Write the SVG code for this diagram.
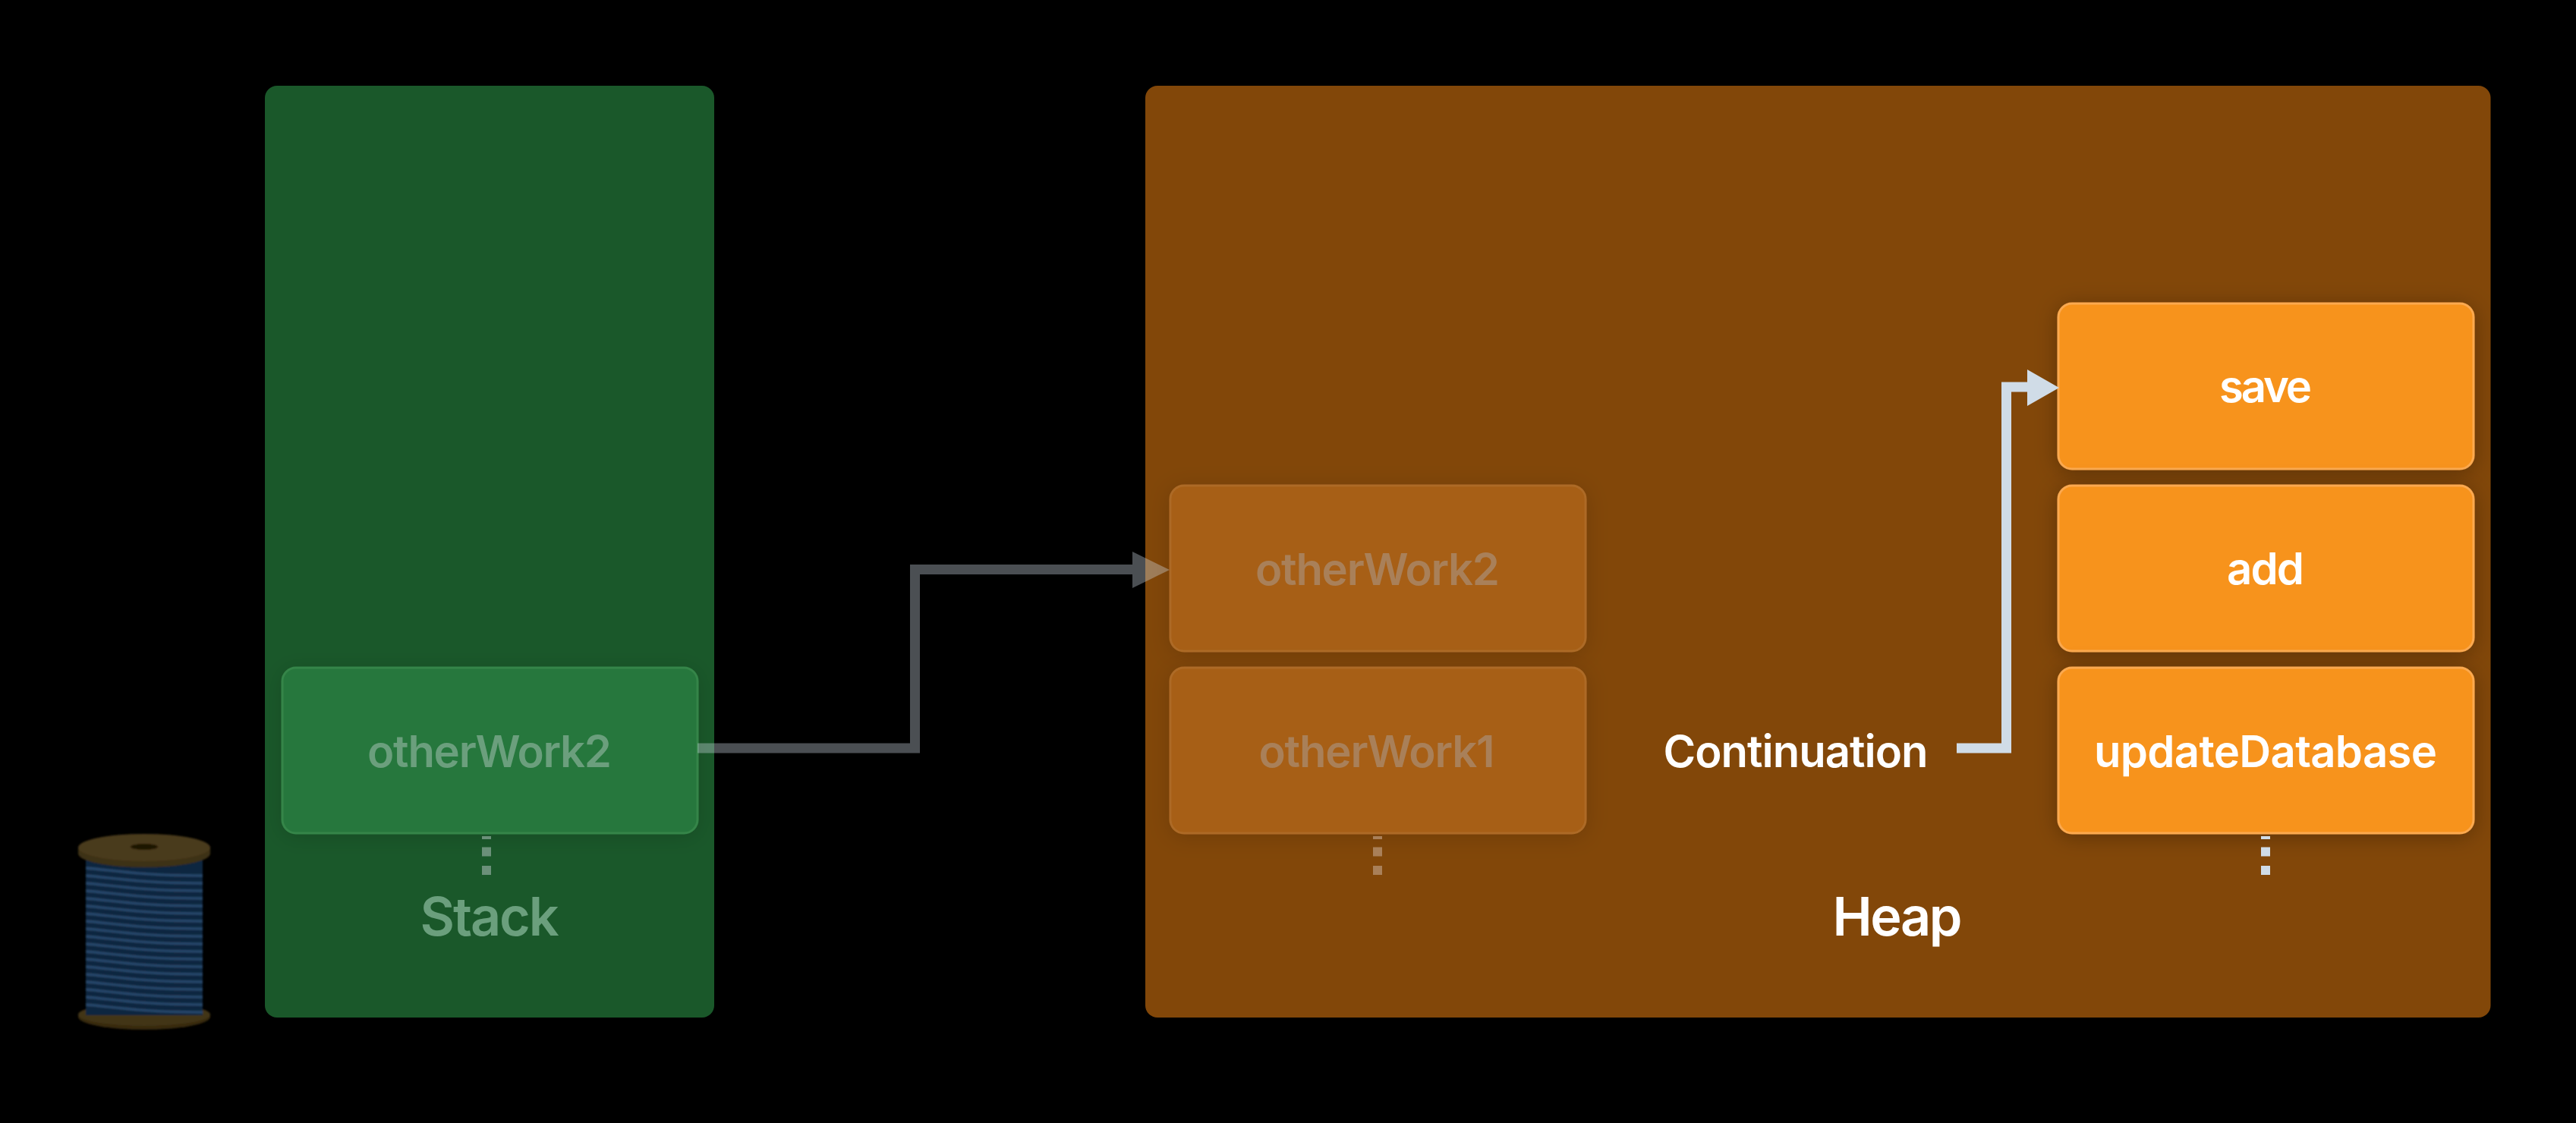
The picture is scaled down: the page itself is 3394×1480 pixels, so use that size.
<svg xmlns="http://www.w3.org/2000/svg" xmlns:xlink="http://www.w3.org/1999/xlink" width="3394" height="1480" viewBox="0 0 3394 1480">
<style>
text{font-family:Inter,"Liberation Sans",sans-serif;font-weight:600;text-anchor:middle}
.lbl{font-size:58px}
.title{font-size:70px}
.w{fill:#fff}
.dg{fill:#6b9f7d}
.do{fill:#a98059}
.box{stroke-width:3}
.act{fill:#f7931e;stroke:#fba94f}
.dimo{fill:#a75e12;stroke:#ad6b28}
.dimg{fill:#28773c;stroke:#358548}
.dots{fill:none;stroke-width:12;stroke-dasharray:4 10.500 12 12.500 12}
</style>
<defs>
<filter id="sh" x="-15%" y="-25%" width="130%" height="160%"><feDropShadow dx="0" dy="4" stdDeviation="14" flood-color="#000" flood-opacity=".28"/></filter>
<filter id="shd" x="-15%" y="-25%" width="130%" height="160%"><feDropShadow dx="0" dy="4" stdDeviation="14" flood-color="#000" flood-opacity=".14"/></filter>
<filter id="soft" x="-5%" y="-5%" width="110%" height="110%"><feGaussianBlur stdDeviation="1.100"/></filter>
<clipPath id="bodyclip"><rect x="113" y="1130" width="154" height="208"/></clipPath>
<path id="st" d="M113 0C150 3 185 10 267 10"/>
</defs>
<rect width="3394" height="1480" fill="#000"/>
<g id="stack"><rect x="349" y="113" width="592" height="1228" rx="16" fill="#1a582a"/><text class="title dg" x="645" y="1233" textLength="183">Stack</text></g>
<g id="heap"><rect x="1509" y="113" width="1772.500" height="1228" rx="16" fill="#824709"/><text class="title w" x="2500" y="1233" textLength="171">Heap</text></g>
<g id="spool">
<g filter="url(#soft)">
<path d="M103 1340v-1a87 16 0 0 1 174 0v1a87 17 0 0 1-174 0z" fill="#382b10"/>
<ellipse cx="190" cy="1337" rx="87" ry="15" fill="#433517"/>
<rect x="113" y="1130" width="154" height="208" fill="#11263f"/>
<g clip-path="url(#bodyclip)" fill="none" stroke="#28476a" stroke-width="3.400">
<use xlink:href="#st" href="#st" y="1144"/><use xlink:href="#st" href="#st" y="1154"/><use xlink:href="#st" href="#st" y="1164"/><use xlink:href="#st" href="#st" y="1174"/><use xlink:href="#st" href="#st" y="1184"/><use xlink:href="#st" href="#st" y="1194"/><use xlink:href="#st" href="#st" y="1204"/><use xlink:href="#st" href="#st" y="1214"/><use xlink:href="#st" href="#st" y="1224"/><use xlink:href="#st" href="#st" y="1234"/><use xlink:href="#st" href="#st" y="1244"/><use xlink:href="#st" href="#st" y="1254"/><use xlink:href="#st" href="#st" y="1264"/><use xlink:href="#st" href="#st" y="1274"/><use xlink:href="#st" href="#st" y="1284"/><use xlink:href="#st" href="#st" y="1294"/><use xlink:href="#st" href="#st" y="1304"/><use xlink:href="#st" href="#st" y="1314"/><use xlink:href="#st" href="#st" y="1324"/>
</g>
<path d="M103 1117v8a87 18 0 0 0 174 0v-8z" fill="#3e3013"/>
<ellipse cx="190" cy="1117" rx="87" ry="18" fill="#4a3a1a"/>
<ellipse cx="190" cy="1116" rx="18" ry="4" fill="#1f1306"/>
</g>
</g>
<g id="node-stack-otherWork2"><rect class="box dimg" x="372" y="880" width="547" height="218" rx="18" filter="url(#shd)"/><text class="lbl dg" x="645" y="1011" textLength="322">otherWork2</text></g>
<g id="node-heap-otherWork2"><rect class="box dimo" x="1542" y="640" width="547" height="218" rx="18" filter="url(#shd)"/><text class="lbl do" x="1815" y="771" textLength="322">otherWork2</text></g>
<g id="node-heap-otherWork1"><rect class="box dimo" x="1542" y="880" width="547" height="218" rx="18" filter="url(#shd)"/><text class="lbl do" x="1814" y="1011" textLength="311">otherWork1</text></g>
<g id="node-save"><rect class="box act" x="2712" y="400" width="547" height="218" rx="18" filter="url(#sh)"/><text class="lbl w" x="2985" y="530" textLength="122">save</text></g>
<g id="node-add"><rect class="box act" x="2712" y="640" width="547" height="218" rx="18" filter="url(#sh)"/><text class="lbl w" x="2985" y="770" textLength="102">add</text></g>
<g id="node-updateDatabase"><rect class="box act" x="2712" y="880" width="547" height="218" rx="18" filter="url(#sh)"/><text class="lbl w" x="2985" y="1011" textLength="452">updateDatabase</text></g>
<g id="label-continuation"><text class="lbl w" x="2366" y="1011" textLength="349">Continuation</text></g>
<g id="connectors">
<path class="dots" d="M641 1102V1153" stroke="#6b9079"/>
<path class="dots" d="M1815 1102V1153" stroke="#a98059"/>
<path class="dots" d="M2985 1102V1153" stroke="#d0dce7"/>
<g opacity=".36">
<path d="M919 986H1205.500V750.500H1494" fill="none" stroke="#d0dce7" stroke-width="13"/>
<path d="M1492 727L1541 751L1492 775z" fill="#d0dce7"/>
</g>
<path d="M2578 986H2643.500V510H2673" fill="none" stroke="#d0dce7" stroke-width="13"/>
<path d="M2671 487L2713 511L2671 535z" fill="#d0dce7"/>
</g>
</svg>
